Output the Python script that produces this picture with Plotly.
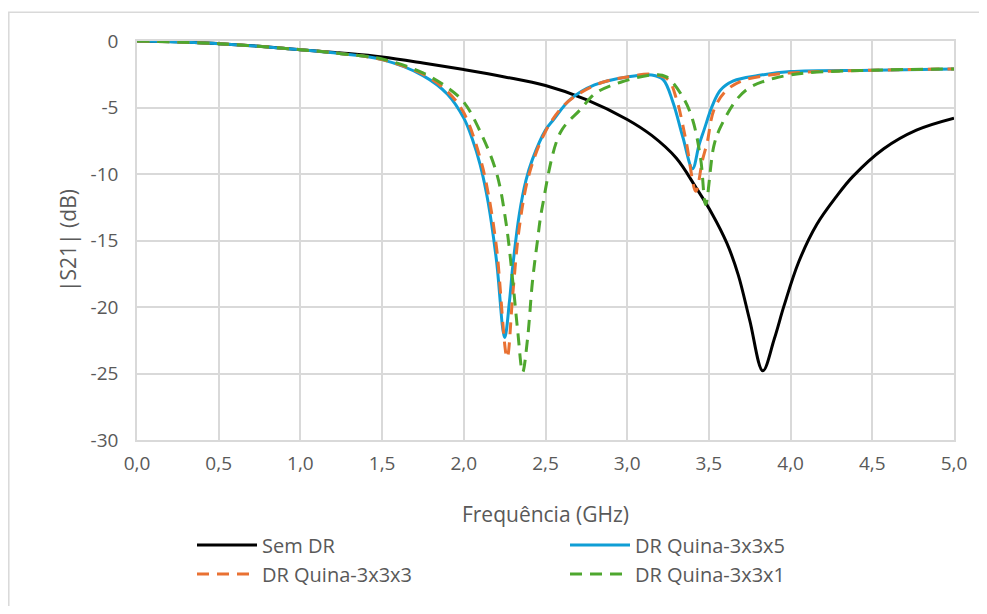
import plotly.graph_objects as go

# frequency (GHz) and |S21| (dB)
freq_sem = [0.0, 0.25, 0.5, 0.75, 1.0, 1.25, 1.5, 1.75, 2.0, 2.25, 2.5, 2.75, 3.0,
            3.15, 3.3, 3.42, 3.52, 3.61, 3.68, 3.75, 3.83, 3.9, 3.96, 4.05, 4.16, 4.28,
            4.38, 4.57, 4.77, 5.0]
s21_sem = [0.0, -0.05, -0.2, -0.4, -0.65, -0.9, -1.2, -1.65, -2.15, -2.7, -3.35, -4.4, -5.9,
           -7.1, -8.8, -11.0, -13.0, -15.2, -17.6, -21.0, -24.8, -22.4, -19.9, -16.6, -13.8,
           -11.7, -10.2, -8.1, -6.7, -5.8]

freq_q5 = [0.0, 0.5, 1.0, 1.25, 1.5, 1.75, 1.9, 2.0, 2.05, 2.1, 2.15, 2.2, 2.25, 2.28, 2.3,
           2.34, 2.38, 2.42, 2.5, 2.55, 2.65, 2.8, 3.0, 3.15, 3.22, 3.28, 3.34, 3.4, 3.44,
           3.47, 3.52, 3.57, 3.65, 3.8, 4.0, 4.5, 5.0]
s21_q5 = [0.0, -0.2, -0.65, -0.95, -1.4, -2.6, -4.0, -5.8, -7.3, -9.3, -12.2, -16.5, -22.3, -19.5,
          -16.9, -13.0, -10.5, -8.9, -6.7, -5.9, -4.4, -3.3, -2.7, -2.55, -2.9, -4.6, -7.2, -9.6,
          -7.8, -6.7, -4.9, -3.7, -3.0, -2.6, -2.3, -2.2, -2.1]

freq_q3 = [0.0, 0.5, 1.0, 1.25, 1.5, 1.75, 1.9, 2.0, 2.1, 2.15, 2.2, 2.265, 2.3, 2.34, 2.4,
           2.5, 2.6, 2.7, 2.85, 3.0, 3.15, 3.25, 3.3, 3.36, 3.42, 3.46, 3.49, 3.53, 3.6, 3.7,
           3.85, 4.0, 4.5, 5.0]
s21_q3 = [0.0, -0.2, -0.65, -0.95, -1.4, -2.5, -3.8, -5.4, -8.8, -11.5, -15.5, -23.8, -19.0,
          -14.0, -10.0, -6.8, -5.0, -4.0, -3.1, -2.7, -2.5, -2.9, -4.3, -7.5, -11.3, -9.0, -7.6,
          -5.2, -3.8, -3.0, -2.6, -2.4, -2.2, -2.1]

freq_q1 = [0.0, 0.5, 1.0, 1.25, 1.5, 1.75, 1.9, 2.0, 2.1, 2.2, 2.26, 2.3, 2.33, 2.36, 2.39,
           2.42, 2.45, 2.48, 2.59, 2.71, 2.81, 2.96, 3.16, 3.24, 3.34, 3.4, 3.45, 3.48, 3.53,
           3.57, 3.67, 3.75, 3.9, 4.1, 4.5, 5.0]
s21_q1 = [0.0, -0.2, -0.65, -0.95, -1.35, -2.4, -3.5, -4.6, -6.8, -9.9, -13.8, -18.1, -21.8,
          -24.9, -22.4, -18.1, -15.1, -12.5, -6.9, -5.2, -3.9, -3.1, -2.55, -2.7, -4.2, -5.9,
          -8.9, -12.3, -7.9, -6.5, -4.4, -3.5, -2.8, -2.4, -2.2, -2.1]

x_ticks = [0.0, 0.5, 1.0, 1.5, 2.0, 2.5, 3.0, 3.5, 4.0, 4.5, 5.0]
y_ticks = [0, -5, -10, -15, -20, -25, -30]

FONT = "'Open Sans', 'Noto Sans', sans-serif"
GRAY = "#595959"
GRID = "#d9d9d9"

# the page body adds 8px around the figure, so the figure is 16px smaller than the window
W, H = 971, 598
L, T = 129, 33
PW, PH = 817, 401
R, B = W - L - PW, H - T - PH

fig = go.Figure()
fig.add_trace(go.Scatter(x=freq_sem, y=s21_sem, name="Sem DR", mode="lines", legend="legend",
                         line=dict(color="#000000", width=3, shape="spline")))
fig.add_trace(go.Scatter(x=freq_q5, y=s21_q5, name="DR Quina-3x3x5", mode="lines", legend="legend2",
                         line=dict(color="#0F9ED5", width=3, shape="spline")))
fig.add_trace(go.Scatter(x=freq_q3, y=s21_q3, name="DR Quina-3x3x3", mode="lines", legend="legend",
                         line=dict(color="#E97132", width=3, shape="spline", dash="12px,8px")))
fig.add_trace(go.Scatter(x=freq_q1, y=s21_q1, name="DR Quina-3x3x1", mode="lines", legend="legend2",
                         line=dict(color="#4EA72E", width=3, shape="spline", dash="12px,8px")))

# outer chart border (Excel style)
fig.add_shape(type="rect", xref="paper", yref="paper",
              x0=(0.8 - L) / PW, x1=1.1, y0=-0.6, y1=1 + (T - 4) / PH,
              line=dict(color=GRID, width=1.5), layer="below")

leg_y = (434 - 520) / PH
legend_style = dict(orientation="v", y=leg_y, yanchor="top", xanchor="left",
                    traceorder="normal", tracegroupgap=0, bgcolor="rgba(0,0,0,0)",
                    itemwidth=60, font=dict(size=20, color=GRAY))

fig.update_layout(
    width=W, height=H,
    margin=dict(l=L, r=R, t=T, b=B),
    paper_bgcolor="white", plot_bgcolor="white",
    separators=",.",
    font=dict(family=FONT, size=19, color=GRAY),
    xaxis=dict(range=[0, 5], tickvals=x_ticks, tickformat=".1f", tickangle=0,
               showgrid=True, gridcolor=GRID, gridwidth=1.5,
               showline=True, linecolor=GRID, linewidth=1.5, mirror=True,
               zeroline=False, ticks="", ticklen=0, ticklabelstandoff=5,
               title=dict(text="Frequência (GHz)", standoff=33,
                          font=dict(size=21, color=GRAY))),
    yaxis=dict(range=[-30, 0], tickvals=y_ticks, ticktext=[str(v) for v in y_ticks],
               showgrid=True, gridcolor=GRID, gridwidth=1.5,
               showline=True, linecolor=GRID, linewidth=1.5, mirror=True,
               zeroline=False, ticks="", ticklen=0, ticklabelstandoff=13,
               title=dict(text="|S21| (dB)", standoff=8,
                          font=dict(size=21, color=GRAY))),
    legend=dict(x=(184 - L) / PW, **legend_style),
    legend2=dict(x=(557 - L) / PW, **legend_style),
)

fig.write_html("out.html")
